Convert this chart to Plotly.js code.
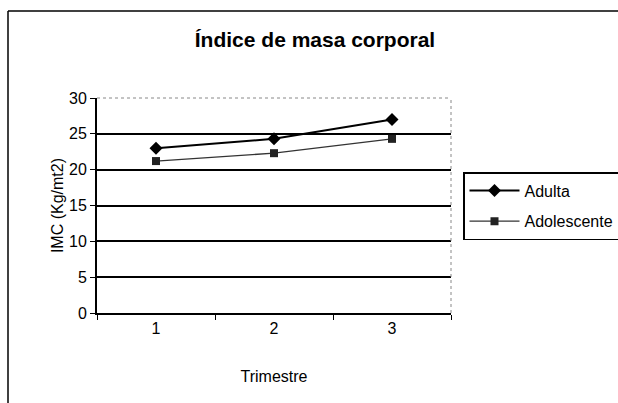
<!DOCTYPE html>
<html><head><meta charset="utf-8">
<script src="https://cdn.plot.ly/plotly-3.0.1.min.js"></script>
<style>html,body{margin:0;background:#fff;overflow:hidden}</style>
</head><body>
<div id="chart" style="width:660px;height:403px"></div>
<script>
const trimestres = ["1", "2", "3"];
const adulta = [23.0, 24.3, 27.0];
const adolescente = [21.2, 22.3, 24.3];
const yTicks = [0, 5, 10, 15, 20, 25, 30];

const L = 97, R = 451, T = 98, B = 313, W = 660, H = 403;
const px = v => (v - L) / (R - L);
const py = v => (B - v) / (B - T);

const data = [
  {x: trimestres, y: adulta, name: "Adulta", type: "scatter", mode: "lines+markers",
   line: {color: "#000", width: 2}, marker: {symbol: "diamond", size: 10, color: "#000"},
   legendgroup: "a"},
  {x: trimestres, y: adolescente, name: "Adolescente", type: "scatter", mode: "lines+markers",
   line: {color: "#333", width: 1.3}, marker: {symbol: "square", size: 8, color: "#222"},
   legendgroup: "b"}
];

const layout = {
  width: W, height: H,
  margin: {l: L, r: W - R, t: T, b: H - B, pad: 0},
  paper_bgcolor: "#fff", plot_bgcolor: "#fff",
  font: {family: "Liberation Sans, Arial, sans-serif", color: "#000", size: 16},
  title: {text: "<b>Índice de masa corporal</b>", x: 315 / W, xanchor: "center",
          y: 1 - 40 / H, yanchor: "middle", font: {size: 21}},
  xaxis: {type: "category", range: [-0.5, 2.5], showline: true, linecolor: "#000", linewidth: 2,
          ticks: "outside", ticklen: 5, tickcolor: "#000", tickson: "boundaries",
          showgrid: false, zeroline: false, mirror: false,
          title: {text: "Trimestre", font: {size: 16}, standoff: 35},
          tickfont: {size: 16}},
  yaxis: {range: [0, 30], tickvals: yTicks, showline: true, linecolor: "#000", linewidth: 2,
          ticks: "outside", ticklen: 5, tickcolor: "#000",
          showgrid: true, gridcolor: "#000", gridwidth: 2, zeroline: false,
          title: {text: "IMC (Kg/mt2)", font: {size: 16}, standoff: 1},
          tickfont: {size: 16}},
  showlegend: true,
  legend: {x: px(463), xanchor: "left", y: py(172), yanchor: "top",
           bordercolor: "#000", borderwidth: 1.5, bgcolor: "#fff", itemwidth: 50,
           traceorder: "grouped", tracegroupgap: 7, font: {size: 16}},
  shapes: [
    {type: "line", xref: "paper", yref: "paper", x0: px(8), x1: px(8), y0: py(11), y1: py(403), line: {color: "#000", width: 1.5}},
    {type: "line", xref: "paper", yref: "paper", x0: px(8), x1: px(W), y0: py(11), y1: py(11), line: {color: "#000", width: 1.5}},
    {type: "line", xref: "paper", yref: "paper", x0: 0, x1: 1, y0: 1, y1: 1, line: {color: "#888", width: 1, dash: "dot"}},
    {type: "line", xref: "paper", yref: "paper", x0: 1, x1: 1, y0: 0, y1: 1, line: {color: "#888", width: 1, dash: "dot"}}
  ]
};

Plotly.newPlot("chart", data, layout, {displayModeBar: false, staticPlot: true});
</script>
</body></html>
